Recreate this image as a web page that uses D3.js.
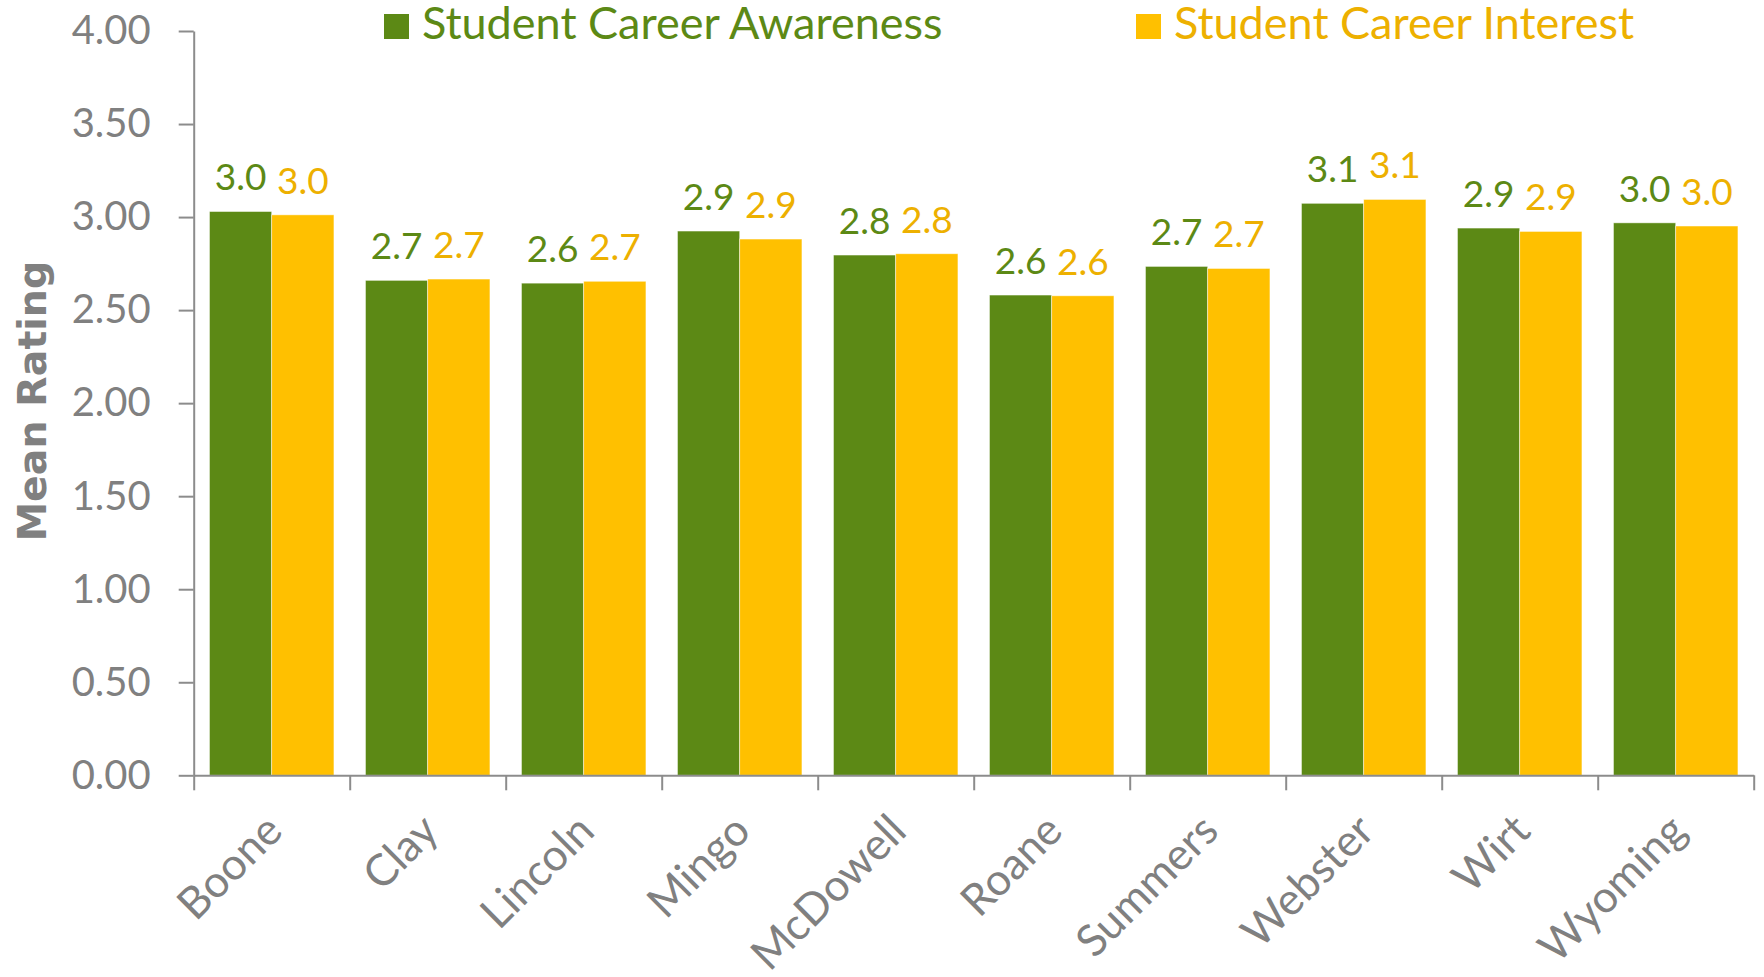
<!DOCTYPE html>
<html>
<head>
<meta charset="utf-8">
<script src="https://cdn.jsdelivr.net/npm/d3@7"></script>
<style>
  html, body { margin: 0; padding: 0; background: #fff; }
  svg { display: block; font-family: "Gill Sans", "Gill Sans MT", Lato, sans-serif; }
</style>
</head>
<body>
<svg id="chart" width="1764" height="977"></svg>
<script>
// County names along the x axis
const counties = ["Boone", "Clay", "Lincoln", "Mingo", "McDowell", "Roane", "Summers", "Webster", "Wirt", "Wyoming"];
// Mean ratings per county
const awareness = [3.03, 2.66, 2.645, 2.925, 2.796, 2.581, 2.735, 3.074, 2.941, 2.969];
const interest  = [3.012, 2.667, 2.655, 2.882, 2.803, 2.577, 2.724, 3.095, 2.923, 2.952];
const seriesNames = ["Student Career Awareness", "Student Career Interest"];
const yTicks = [0, 0.5, 1, 1.5, 2, 2.5, 3, 3.5, 4];

const barColors = ["#5C8915", "#FFC000"];
const textColors = ["#5C8915", "#EDB000"];
const gray = "#808080";
const axisGray = "#8C8C8C";
const mainFont = '"Gill Sans", "Gill Sans MT", Lato, sans-serif';

const svg = d3.select("#chart");
const plot = { left: 193.7, right: 1753.7, top: 31, bottom: 775.3 };

const y = d3.scaleLinear().domain([0, 4]).range([plot.bottom, plot.top]);
const x = d3.scaleBand().domain(counties).range([plot.left, plot.right]).paddingInner(0).paddingOuter(0);
const sub = d3.scaleBand().domain([0, 1]).range([0, x.bandwidth()]).paddingOuter(0.253).paddingInner(0);

// Bars
const rows = counties.map((c, i) => ({ county: c, values: [awareness[i], interest[i]] }));
const groups = svg.append("g").selectAll("g").data(rows).join("g")
  .attr("transform", d => `translate(${x(d.county)},0)`);

groups.selectAll("rect").data(d => d.values.map((v, k) => ({ v, k }))).join("rect")
  .attr("x", d => sub(d.k))
  .attr("width", sub.bandwidth())
  .attr("y", d => y(d.v))
  .attr("height", d => y(0) - y(d.v))
  .attr("fill", d => barColors[d.k])
  .attr("stroke", "#fff")
  .attr("stroke-opacity", 0.6)
  .attr("stroke-width", 0.8);

// Value labels above bars
groups.selectAll("text.val").data(d => d.values.map((v, k) => ({ v, k }))).join("text")
  .attr("class", "val")
  .attr("x", d => sub(d.k) + sub.bandwidth() / 2)
  .attr("y", d => y(d.v) - 21)
  .attr("text-anchor", "middle")
  .attr("font-size", 37)
  .attr("fill", d => textColors[d.k])
  .text(d => d3.format(".1f")(d.v));

// Y axis
const yAxis = svg.append("g")
  .attr("transform", `translate(${plot.left},0)`)
  .call(d3.axisLeft(y).tickValues(yTicks).tickFormat(d3.format(".2f")).tickSize(15).tickSizeOuter(0).tickPadding(28))
  .attr("font-family", mainFont)
  .attr("font-size", 40);
yAxis.select(".domain").attr("stroke", axisGray).attr("stroke-width", 2);
yAxis.selectAll(".tick line").attr("stroke", axisGray).attr("stroke-width", 2);
yAxis.selectAll(".tick text").attr("fill", gray);

// X axis: tick marks at category boundaries
const xEdges = d3.scaleLinear().domain([0, counties.length]).range([plot.left, plot.right]);
const xAxis = svg.append("g")
  .attr("transform", `translate(0,${plot.bottom})`)
  .call(d3.axisBottom(xEdges).tickValues(d3.range(counties.length + 1)).tickFormat("").tickSize(15).tickSizeOuter(0));
xAxis.select(".domain").attr("stroke", axisGray).attr("stroke-width", 2);
xAxis.selectAll(".tick line").attr("stroke", axisGray).attr("stroke-width", 2);

// Rotated county labels
svg.append("g").selectAll("text").data(counties).join("text")
  .attr("transform", d => `translate(${x(d) + x.bandwidth() / 2 + 13},${plot.bottom + 58}) rotate(-45)`)
  .attr("text-anchor", "end")
  .attr("font-size", 44)
  .attr("fill", gray)
  .text(d => d);

// Y axis title
svg.append("text")
  .attr("transform", `translate(46,401) rotate(-90)`)
  .attr("text-anchor", "middle")
  .attr("font-family", '"DejaVu Sans", sans-serif')
  .attr("font-size", 39.5)
  .attr("font-weight", "bold")
  .attr("fill", gray)
  .text("Mean Rating");

// Legend
const legendPos = [{ sx: 384, tx: 422 }, { sx: 1136, tx: 1174 }];
const legend = svg.append("g").selectAll("g").data(seriesNames).join("g");
legend.append("rect")
  .attr("x", (d, i) => legendPos[i].sx)
  .attr("y", 14)
  .attr("width", 25)
  .attr("height", 25)
  .attr("fill", (d, i) => barColors[i]);
legend.append("text")
  .attr("x", (d, i) => legendPos[i].tx)
  .attr("y", 38.5)
  .attr("font-size", 45)
  .attr("fill", (d, i) => textColors[i])
  .text(d => d);
</script>
</body>
</html>
